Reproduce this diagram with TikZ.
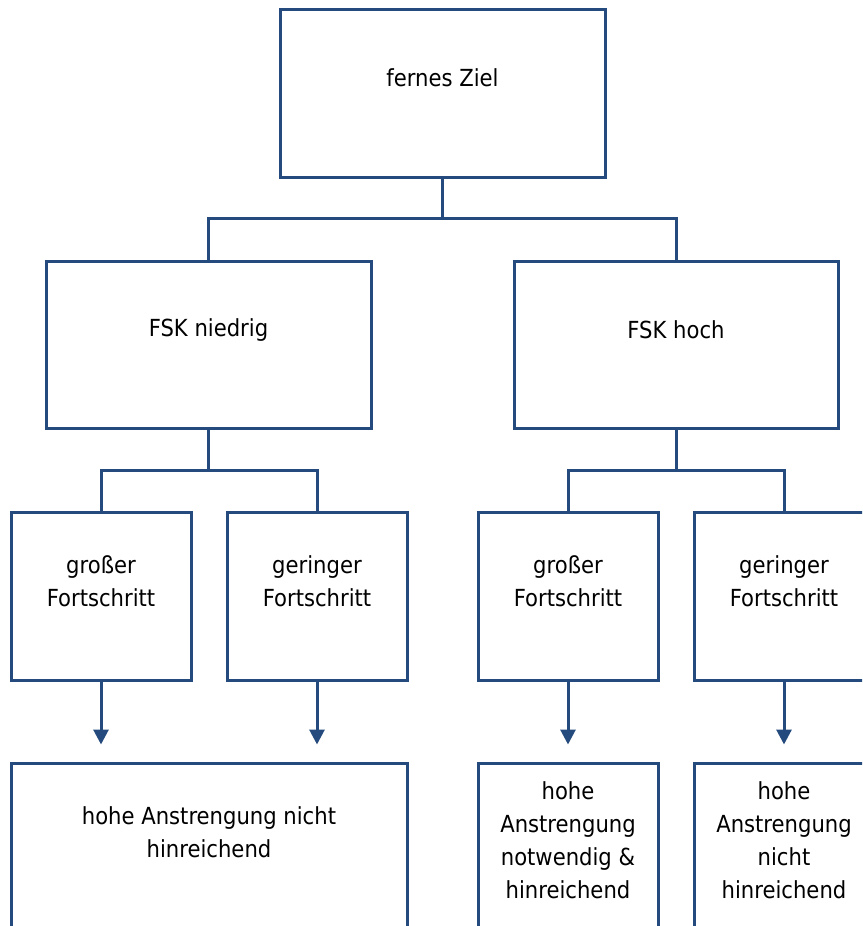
\documentclass[tikz,border=0pt]{standalone}
\usepackage{fontspec}
\setmainfont{DejaVu Sans Condensed}
\usetikzlibrary{arrows.meta}
\definecolor{linkblue}{RGB}{36,74,126}
\tikzset{
  x=1pt, y=-1pt,
  box/.style={draw=linkblue, line width=3pt, fill=white, inner sep=0pt},
  lbl/.style={align=center, font=\fontsize{23.5}{33}\selectfont, text=black},
  link/.style={draw=linkblue, line width=3pt},
  arr/.style={draw=linkblue, line width=3pt, -{Triangle[width=15pt,length=15pt]}},
}
\begin{document}
\begin{tikzpicture}
\useasboundingbox (0,0) rectangle (862,926);
\clip (0,0) rectangle (862,926);

% boxes
\node[box, minimum width=325pt, minimum height=168pt] (ziel) at (442.5,93) {};
\node[box, minimum width=325pt, minimum height=167pt] (niedrig) at (208.5,344.5) {};
\node[box, minimum width=324pt, minimum height=167pt] (hoch) at (676,344.5) {};
\node[box, minimum width=180pt, minimum height=168pt] (ng) at (101,596) {};
\node[box, minimum width=180pt, minimum height=168pt] (nk) at (317,596) {};
\node[box, minimum width=180pt, minimum height=168pt] (hg) at (568,596) {};
\node[box, minimum width=180pt, minimum height=168pt] (hk) at (784,596) {};
\node[box, minimum width=396pt, minimum height=200pt] (rn) at (209,863) {};
\node[box, minimum width=180pt, minimum height=200pt] (rhg) at (568,863) {};
\node[box, minimum width=180pt, minimum height=200pt] (rhk) at (784,863) {};

% texts
\node[lbl] (tziel) at (442.5,78) {fernes Ziel};
\node[lbl] (tniedrig) at (208.5,330) {FSK niedrig};
\node[lbl] (thoch) at (676,330) {FSK hoch};
\node[lbl] (tng) at (101,581) {großer\\Fortschritt};
\node[lbl] (tnk) at (317,581) {geringer\\Fortschritt};
\node[lbl] (thg) at (568,581) {großer\\Fortschritt};
\node[lbl] (thk) at (784,581) {geringer\\Fortschritt};
\node[lbl] (trn) at (209,832) {hohe Anstrengung nicht\\hinreichend};
\node[lbl] (trhg) at (568,840) {hohe\\Anstrengung\\notwendig \&\\hinreichend};
\node[lbl] (trhk) at (784,840) {hohe\\Anstrengung\\nicht\\hinreichend};

% tree connectors
\draw[link] (ziel.south) -- ++(0,40) -| (niedrig.north);
\draw[link] (ziel.south) ++(0,40) -| (hoch.north);
\draw[link] (niedrig.south) -- ++(0,41) -| (ng.north);
\draw[link] (niedrig.south) ++(0,41) -| (nk.north);
\draw[link] (hoch.south) -- ++(0,41) -| (hg.north);
\draw[link] (hoch.south) ++(0,41) -| (hk.north);

% arrows towards the outcome row
\draw[arr] (ng.south) -- ([yshift=17]ng.south |- rn.north);
\draw[arr] (nk.south) -- ([yshift=17]nk.south |- rn.north);
\draw[arr] (hg.south) -- ([yshift=17]rhg.north);
\draw[arr] (hk.south) -- ([yshift=17]rhk.north);
\end{tikzpicture}
\end{document}
